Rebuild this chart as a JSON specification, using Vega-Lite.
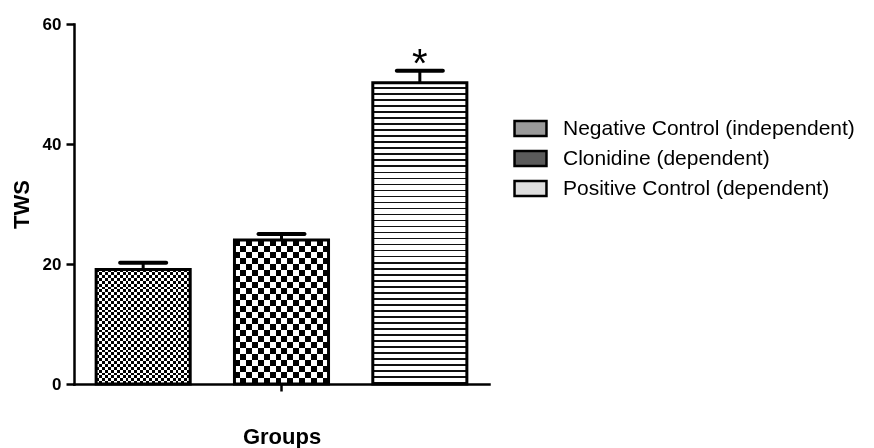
{
  "$schema": "https://vega.github.io/schema/vega-lite/v6.json",
  "width": 415,
  "height": 360,
  "autosize": {"type": "none"},
  "padding": {"left": 74, "top": 24, "right": 385, "bottom": 64},
  "background": "white",
  "config": {
    "view": {"stroke": null},
    "font": "Liberation Sans",
    "axis": {"domainColor": "black", "tickColor": "black", "labelColor": "black", "titleColor": "black", "grid": false, "labelFont": "Liberation Sans", "titleFont": "Liberation Sans"},
    "legend": {"labelFont": "Liberation Sans"}
  },
  "data": {
    "values": [
      {"Group": "Negative Control (independent)", "mean": 19.1, "upper": 20.2, "sig": ""},
      {"Group": "Clonidine (dependent)", "mean": 24.0, "upper": 25.0, "sig": ""},
      {"Group": "Positive Control (dependent)", "mean": 50.2, "upper": 52.2, "sig": "*"}
    ]
  },
  "encoding": {
    "x": {
      "field": "Group",
      "type": "nominal",
      "sort": ["Negative Control (independent)", "Clonidine (dependent)", "Positive Control (dependent)"],
      "scale": {"paddingInner": 0.32, "paddingOuter": 0.16},
      "axis": {"title": "Groups", "labels": false, "values": ["Clonidine (dependent)"], "tickSize": 7, "tickWidth": 2.5, "domainWidth": 2.5, "domainCap": "square", "titleFontSize": 22, "titleFontWeight": "bold", "titlePadding": 34}
    }
  },
  "layer": [
    {
      "mark": {"type": "bar"},
      "encoding": {
        "y": {"field": "mean", "type": "quantitative", "title": "TWS", "scale": {"domain": [0, 60], "nice": false},
          "axis": {"values": [0, 20, 40, 60], "tickSize": 8, "tickWidth": 2.5, "domainWidth": 2.5, "domainCap": "square", "labelFontSize": 17, "labelFontWeight": "bold", "labelPadding": 5, "titleFontSize": 22, "titleFontWeight": "bold", "titlePadding": 9}},
        "fill": {
          "condition": [
            {"test": "datum.Group === 'Negative Control (independent)'", "value": {"gradient": "linear", "x1": 0, "y1": 0, "x2": 0, "y2": 1, "stops": [
                {"offset":0,"color":"#fff"},{"offset":0.025,"color":"#fff"},{"offset":0.025,"color":"#000"},{"offset":0.05,"color":"#000"},
                {"offset":0.05,"color":"#fff"},{"offset":0.075,"color":"#fff"},{"offset":0.075,"color":"#000"},{"offset":0.1,"color":"#000"},
                {"offset":0.1,"color":"#fff"},{"offset":0.125,"color":"#fff"},{"offset":0.125,"color":"#000"},{"offset":0.15,"color":"#000"},
                {"offset":0.15,"color":"#fff"},{"offset":0.175,"color":"#fff"},{"offset":0.175,"color":"#000"},{"offset":0.2,"color":"#000"},
                {"offset":0.2,"color":"#fff"},{"offset":0.225,"color":"#fff"},{"offset":0.225,"color":"#000"},{"offset":0.25,"color":"#000"},
                {"offset":0.25,"color":"#fff"},{"offset":0.275,"color":"#fff"},{"offset":0.275,"color":"#000"},{"offset":0.3,"color":"#000"},
                {"offset":0.3,"color":"#fff"},{"offset":0.325,"color":"#fff"},{"offset":0.325,"color":"#000"},{"offset":0.35,"color":"#000"},
                {"offset":0.35,"color":"#fff"},{"offset":0.375,"color":"#fff"},{"offset":0.375,"color":"#000"},{"offset":0.4,"color":"#000"},
                {"offset":0.4,"color":"#fff"},{"offset":0.425,"color":"#fff"},{"offset":0.425,"color":"#000"},{"offset":0.45,"color":"#000"},
                {"offset":0.45,"color":"#fff"},{"offset":0.475,"color":"#fff"},{"offset":0.475,"color":"#000"},{"offset":0.5,"color":"#000"},
                {"offset":0.5,"color":"#fff"},{"offset":0.525,"color":"#fff"},{"offset":0.525,"color":"#000"},{"offset":0.55,"color":"#000"},
                {"offset":0.55,"color":"#fff"},{"offset":0.575,"color":"#fff"},{"offset":0.575,"color":"#000"},{"offset":0.6,"color":"#000"},
                {"offset":0.6,"color":"#fff"},{"offset":0.625,"color":"#fff"},{"offset":0.625,"color":"#000"},{"offset":0.65,"color":"#000"},
                {"offset":0.65,"color":"#fff"},{"offset":0.675,"color":"#fff"},{"offset":0.675,"color":"#000"},{"offset":0.7,"color":"#000"},
                {"offset":0.7,"color":"#fff"},{"offset":0.725,"color":"#fff"},{"offset":0.725,"color":"#000"},{"offset":0.75,"color":"#000"},
                {"offset":0.75,"color":"#fff"},{"offset":0.775,"color":"#fff"},{"offset":0.775,"color":"#000"},{"offset":0.8,"color":"#000"},
                {"offset":0.8,"color":"#fff"},{"offset":0.825,"color":"#fff"},{"offset":0.825,"color":"#000"},{"offset":0.85,"color":"#000"},
                {"offset":0.85,"color":"#fff"},{"offset":0.875,"color":"#fff"},{"offset":0.875,"color":"#000"},{"offset":0.9,"color":"#000"},
                {"offset":0.9,"color":"#fff"},{"offset":0.925,"color":"#fff"},{"offset":0.925,"color":"#000"},{"offset":0.95,"color":"#000"},
                {"offset":0.95,"color":"#fff"},{"offset":0.975,"color":"#fff"},{"offset":0.975,"color":"#000"},{"offset":1,"color":"#000"}
              ]}},
            {"test": "datum.Group === 'Clonidine (dependent)'", "value": {"gradient": "linear", "x1": 0, "y1": 0, "x2": 0, "y2": 1, "stops": [
                {"offset":0,"color":"#fff"},{"offset":0.04167,"color":"#fff"},{"offset":0.04167,"color":"#000"},{"offset":0.08333,"color":"#000"},
                {"offset":0.08333,"color":"#fff"},{"offset":0.125,"color":"#fff"},{"offset":0.125,"color":"#000"},{"offset":0.16667,"color":"#000"},
                {"offset":0.16667,"color":"#fff"},{"offset":0.20833,"color":"#fff"},{"offset":0.20833,"color":"#000"},{"offset":0.25,"color":"#000"},
                {"offset":0.25,"color":"#fff"},{"offset":0.29167,"color":"#fff"},{"offset":0.29167,"color":"#000"},{"offset":0.33333,"color":"#000"},
                {"offset":0.33333,"color":"#fff"},{"offset":0.375,"color":"#fff"},{"offset":0.375,"color":"#000"},{"offset":0.41667,"color":"#000"},
                {"offset":0.41667,"color":"#fff"},{"offset":0.45833,"color":"#fff"},{"offset":0.45833,"color":"#000"},{"offset":0.5,"color":"#000"},
                {"offset":0.5,"color":"#fff"},{"offset":0.54167,"color":"#fff"},{"offset":0.54167,"color":"#000"},{"offset":0.58333,"color":"#000"},
                {"offset":0.58333,"color":"#fff"},{"offset":0.625,"color":"#fff"},{"offset":0.625,"color":"#000"},{"offset":0.66667,"color":"#000"},
                {"offset":0.66667,"color":"#fff"},{"offset":0.70833,"color":"#fff"},{"offset":0.70833,"color":"#000"},{"offset":0.75,"color":"#000"},
                {"offset":0.75,"color":"#fff"},{"offset":0.79167,"color":"#fff"},{"offset":0.79167,"color":"#000"},{"offset":0.83333,"color":"#000"},
                {"offset":0.83333,"color":"#fff"},{"offset":0.875,"color":"#fff"},{"offset":0.875,"color":"#000"},{"offset":0.91667,"color":"#000"},
                {"offset":0.91667,"color":"#fff"},{"offset":0.95833,"color":"#fff"},{"offset":0.95833,"color":"#000"},{"offset":1,"color":"#000"}
              ]}}
          ],
          "value": {"gradient": "linear", "x1": 0, "y1": 0, "x2": 0, "y2": 1, "stops": [
                {"offset":0,"color":"#fff"},{"offset":0.0145,"color":"#fff"},{"offset":0.0145,"color":"#111"},{"offset":0.02,"color":"#111"},
                {"offset":0.02,"color":"#fff"},{"offset":0.0345,"color":"#fff"},{"offset":0.0345,"color":"#111"},{"offset":0.04,"color":"#111"},
                {"offset":0.04,"color":"#fff"},{"offset":0.0545,"color":"#fff"},{"offset":0.0545,"color":"#111"},{"offset":0.06,"color":"#111"},
                {"offset":0.06,"color":"#fff"},{"offset":0.0745,"color":"#fff"},{"offset":0.0745,"color":"#111"},{"offset":0.08,"color":"#111"},
                {"offset":0.08,"color":"#fff"},{"offset":0.0945,"color":"#fff"},{"offset":0.0945,"color":"#111"},{"offset":0.1,"color":"#111"},
                {"offset":0.1,"color":"#fff"},{"offset":0.1145,"color":"#fff"},{"offset":0.1145,"color":"#111"},{"offset":0.12,"color":"#111"},
                {"offset":0.12,"color":"#fff"},{"offset":0.1345,"color":"#fff"},{"offset":0.1345,"color":"#111"},{"offset":0.14,"color":"#111"},
                {"offset":0.14,"color":"#fff"},{"offset":0.1545,"color":"#fff"},{"offset":0.1545,"color":"#111"},{"offset":0.16,"color":"#111"},
                {"offset":0.16,"color":"#fff"},{"offset":0.1745,"color":"#fff"},{"offset":0.1745,"color":"#111"},{"offset":0.18,"color":"#111"},
                {"offset":0.18,"color":"#fff"},{"offset":0.1945,"color":"#fff"},{"offset":0.1945,"color":"#111"},{"offset":0.2,"color":"#111"},
                {"offset":0.2,"color":"#fff"},{"offset":0.2145,"color":"#fff"},{"offset":0.2145,"color":"#111"},{"offset":0.22,"color":"#111"},
                {"offset":0.22,"color":"#fff"},{"offset":0.2345,"color":"#fff"},{"offset":0.2345,"color":"#111"},{"offset":0.24,"color":"#111"},
                {"offset":0.24,"color":"#fff"},{"offset":0.2545,"color":"#fff"},{"offset":0.2545,"color":"#111"},{"offset":0.26,"color":"#111"},
                {"offset":0.26,"color":"#fff"},{"offset":0.2745,"color":"#fff"},{"offset":0.2745,"color":"#111"},{"offset":0.28,"color":"#111"},
                {"offset":0.28,"color":"#fff"},{"offset":0.2945,"color":"#fff"},{"offset":0.2945,"color":"#111"},{"offset":0.3,"color":"#111"},
                {"offset":0.3,"color":"#fff"},{"offset":0.3145,"color":"#fff"},{"offset":0.3145,"color":"#111"},{"offset":0.32,"color":"#111"},
                {"offset":0.32,"color":"#fff"},{"offset":0.3345,"color":"#fff"},{"offset":0.3345,"color":"#111"},{"offset":0.34,"color":"#111"},
                {"offset":0.34,"color":"#fff"},{"offset":0.3545,"color":"#fff"},{"offset":0.3545,"color":"#111"},{"offset":0.36,"color":"#111"},
                {"offset":0.36,"color":"#fff"},{"offset":0.3745,"color":"#fff"},{"offset":0.3745,"color":"#111"},{"offset":0.38,"color":"#111"},
                {"offset":0.38,"color":"#fff"},{"offset":0.3945,"color":"#fff"},{"offset":0.3945,"color":"#111"},{"offset":0.4,"color":"#111"},
                {"offset":0.4,"color":"#fff"},{"offset":0.4145,"color":"#fff"},{"offset":0.4145,"color":"#111"},{"offset":0.42,"color":"#111"},
                {"offset":0.42,"color":"#fff"},{"offset":0.4345,"color":"#fff"},{"offset":0.4345,"color":"#111"},{"offset":0.44,"color":"#111"},
                {"offset":0.44,"color":"#fff"},{"offset":0.4545,"color":"#fff"},{"offset":0.4545,"color":"#111"},{"offset":0.46,"color":"#111"},
                {"offset":0.46,"color":"#fff"},{"offset":0.4745,"color":"#fff"},{"offset":0.4745,"color":"#111"},{"offset":0.48,"color":"#111"},
                {"offset":0.48,"color":"#fff"},{"offset":0.4945,"color":"#fff"},{"offset":0.4945,"color":"#111"},{"offset":0.5,"color":"#111"},
                {"offset":0.5,"color":"#fff"},{"offset":0.5145,"color":"#fff"},{"offset":0.5145,"color":"#111"},{"offset":0.52,"color":"#111"},
                {"offset":0.52,"color":"#fff"},{"offset":0.5345,"color":"#fff"},{"offset":0.5345,"color":"#111"},{"offset":0.54,"color":"#111"},
                {"offset":0.54,"color":"#fff"},{"offset":0.5545,"color":"#fff"},{"offset":0.5545,"color":"#111"},{"offset":0.56,"color":"#111"},
                {"offset":0.56,"color":"#fff"},{"offset":0.5745,"color":"#fff"},{"offset":0.5745,"color":"#111"},{"offset":0.58,"color":"#111"},
                {"offset":0.58,"color":"#fff"},{"offset":0.5945,"color":"#fff"},{"offset":0.5945,"color":"#111"},{"offset":0.6,"color":"#111"},
                {"offset":0.6,"color":"#fff"},{"offset":0.6145,"color":"#fff"},{"offset":0.6145,"color":"#111"},{"offset":0.62,"color":"#111"},
                {"offset":0.62,"color":"#fff"},{"offset":0.6345,"color":"#fff"},{"offset":0.6345,"color":"#111"},{"offset":0.64,"color":"#111"},
                {"offset":0.64,"color":"#fff"},{"offset":0.6545,"color":"#fff"},{"offset":0.6545,"color":"#111"},{"offset":0.66,"color":"#111"},
                {"offset":0.66,"color":"#fff"},{"offset":0.6745,"color":"#fff"},{"offset":0.6745,"color":"#111"},{"offset":0.68,"color":"#111"},
                {"offset":0.68,"color":"#fff"},{"offset":0.6945,"color":"#fff"},{"offset":0.6945,"color":"#111"},{"offset":0.7,"color":"#111"},
                {"offset":0.7,"color":"#fff"},{"offset":0.7145,"color":"#fff"},{"offset":0.7145,"color":"#111"},{"offset":0.72,"color":"#111"},
                {"offset":0.72,"color":"#fff"},{"offset":0.7345,"color":"#fff"},{"offset":0.7345,"color":"#111"},{"offset":0.74,"color":"#111"},
                {"offset":0.74,"color":"#fff"},{"offset":0.7545,"color":"#fff"},{"offset":0.7545,"color":"#111"},{"offset":0.76,"color":"#111"},
                {"offset":0.76,"color":"#fff"},{"offset":0.7745,"color":"#fff"},{"offset":0.7745,"color":"#111"},{"offset":0.78,"color":"#111"},
                {"offset":0.78,"color":"#fff"},{"offset":0.7945,"color":"#fff"},{"offset":0.7945,"color":"#111"},{"offset":0.8,"color":"#111"},
                {"offset":0.8,"color":"#fff"},{"offset":0.8145,"color":"#fff"},{"offset":0.8145,"color":"#111"},{"offset":0.82,"color":"#111"},
                {"offset":0.82,"color":"#fff"},{"offset":0.8345,"color":"#fff"},{"offset":0.8345,"color":"#111"},{"offset":0.84,"color":"#111"},
                {"offset":0.84,"color":"#fff"},{"offset":0.8545,"color":"#fff"},{"offset":0.8545,"color":"#111"},{"offset":0.86,"color":"#111"},
                {"offset":0.86,"color":"#fff"},{"offset":0.8745,"color":"#fff"},{"offset":0.8745,"color":"#111"},{"offset":0.88,"color":"#111"},
                {"offset":0.88,"color":"#fff"},{"offset":0.8945,"color":"#fff"},{"offset":0.8945,"color":"#111"},{"offset":0.9,"color":"#111"},
                {"offset":0.9,"color":"#fff"},{"offset":0.9145,"color":"#fff"},{"offset":0.9145,"color":"#111"},{"offset":0.92,"color":"#111"},
                {"offset":0.92,"color":"#fff"},{"offset":0.9345,"color":"#fff"},{"offset":0.9345,"color":"#111"},{"offset":0.94,"color":"#111"},
                {"offset":0.94,"color":"#fff"},{"offset":0.9545,"color":"#fff"},{"offset":0.9545,"color":"#111"},{"offset":0.96,"color":"#111"},
                {"offset":0.96,"color":"#fff"},{"offset":0.9745,"color":"#fff"},{"offset":0.9745,"color":"#111"},{"offset":0.98,"color":"#111"},
                {"offset":0.98,"color":"#fff"},{"offset":0.9945,"color":"#fff"},{"offset":0.9945,"color":"#111"},{"offset":1,"color":"#111"}
              ]}
        }
      }
    },
    {
      "transform": [{"filter": "datum.Group !== 'Positive Control (dependent)'"}],
      "mark": {"type": "bar", "blend": "difference"},
      "encoding": {
        "y": {"field": "mean", "type": "quantitative", "title": "TWS"},
        "fill": {
          "condition": {"test": "datum.Group === 'Negative Control (independent)'", "value": {"gradient": "linear", "x1": 0, "y1": 0, "x2": 1, "y2": 0, "stops": [
            {"offset":0,"color":"#fff"},{"offset":0.03125,"color":"#fff"},{"offset":0.03125,"color":"#000"},{"offset":0.0625,"color":"#000"},
            {"offset":0.0625,"color":"#fff"},{"offset":0.09375,"color":"#fff"},{"offset":0.09375,"color":"#000"},{"offset":0.125,"color":"#000"},
            {"offset":0.125,"color":"#fff"},{"offset":0.15625,"color":"#fff"},{"offset":0.15625,"color":"#000"},{"offset":0.1875,"color":"#000"},
            {"offset":0.1875,"color":"#fff"},{"offset":0.21875,"color":"#fff"},{"offset":0.21875,"color":"#000"},{"offset":0.25,"color":"#000"},
            {"offset":0.25,"color":"#fff"},{"offset":0.28125,"color":"#fff"},{"offset":0.28125,"color":"#000"},{"offset":0.3125,"color":"#000"},
            {"offset":0.3125,"color":"#fff"},{"offset":0.34375,"color":"#fff"},{"offset":0.34375,"color":"#000"},{"offset":0.375,"color":"#000"},
            {"offset":0.375,"color":"#fff"},{"offset":0.40625,"color":"#fff"},{"offset":0.40625,"color":"#000"},{"offset":0.4375,"color":"#000"},
            {"offset":0.4375,"color":"#fff"},{"offset":0.46875,"color":"#fff"},{"offset":0.46875,"color":"#000"},{"offset":0.5,"color":"#000"},
            {"offset":0.5,"color":"#fff"},{"offset":0.53125,"color":"#fff"},{"offset":0.53125,"color":"#000"},{"offset":0.5625,"color":"#000"},
            {"offset":0.5625,"color":"#fff"},{"offset":0.59375,"color":"#fff"},{"offset":0.59375,"color":"#000"},{"offset":0.625,"color":"#000"},
            {"offset":0.625,"color":"#fff"},{"offset":0.65625,"color":"#fff"},{"offset":0.65625,"color":"#000"},{"offset":0.6875,"color":"#000"},
            {"offset":0.6875,"color":"#fff"},{"offset":0.71875,"color":"#fff"},{"offset":0.71875,"color":"#000"},{"offset":0.75,"color":"#000"},
            {"offset":0.75,"color":"#fff"},{"offset":0.78125,"color":"#fff"},{"offset":0.78125,"color":"#000"},{"offset":0.8125,"color":"#000"},
            {"offset":0.8125,"color":"#fff"},{"offset":0.84375,"color":"#fff"},{"offset":0.84375,"color":"#000"},{"offset":0.875,"color":"#000"},
            {"offset":0.875,"color":"#fff"},{"offset":0.90625,"color":"#fff"},{"offset":0.90625,"color":"#000"},{"offset":0.9375,"color":"#000"},
            {"offset":0.9375,"color":"#fff"},{"offset":0.96875,"color":"#fff"},{"offset":0.96875,"color":"#000"},{"offset":1,"color":"#000"}
          ]}},
          "value": {"gradient": "linear", "x1": 0, "y1": 0, "x2": 1, "y2": 0, "stops": [
            {"offset":0,"color":"#fff"},{"offset":0.0625,"color":"#fff"},{"offset":0.0625,"color":"#000"},{"offset":0.125,"color":"#000"},
            {"offset":0.125,"color":"#fff"},{"offset":0.1875,"color":"#fff"},{"offset":0.1875,"color":"#000"},{"offset":0.25,"color":"#000"},
            {"offset":0.25,"color":"#fff"},{"offset":0.3125,"color":"#fff"},{"offset":0.3125,"color":"#000"},{"offset":0.375,"color":"#000"},
            {"offset":0.375,"color":"#fff"},{"offset":0.4375,"color":"#fff"},{"offset":0.4375,"color":"#000"},{"offset":0.5,"color":"#000"},
            {"offset":0.5,"color":"#fff"},{"offset":0.5625,"color":"#fff"},{"offset":0.5625,"color":"#000"},{"offset":0.625,"color":"#000"},
            {"offset":0.625,"color":"#fff"},{"offset":0.6875,"color":"#fff"},{"offset":0.6875,"color":"#000"},{"offset":0.75,"color":"#000"},
            {"offset":0.75,"color":"#fff"},{"offset":0.8125,"color":"#fff"},{"offset":0.8125,"color":"#000"},{"offset":0.875,"color":"#000"},
            {"offset":0.875,"color":"#fff"},{"offset":0.9375,"color":"#fff"},{"offset":0.9375,"color":"#000"},{"offset":1,"color":"#000"}
          ]}
        }
      }
    },
    {
      "mark": {"type": "bar", "fill": "transparent", "stroke": "black", "strokeWidth": 3},
      "encoding": {
        "y": {"field": "mean", "type": "quantitative", "title": "TWS"}
      }
    },
    {
      "mark": {"type": "point", "filled": true, "size": 0, "opacity": 1},
      "encoding": {
        "y": {"field": "mean", "type": "quantitative", "title": "TWS"},
        "fill": {
          "field": "Group",
          "type": "nominal",
          "scale": {
            "domain": ["Negative Control (independent)", "Clonidine (dependent)", "Positive Control (dependent)"],
            "range": ["#9a9a9a", "#5a5a5a", "#dedede"]
          },
          "legend": {
            "orient": "none",
            "legendX": 446,
            "legendY": 94,
            "title": null,
            "symbolType": "M-2.13,-1H2.13V1H-2.13Z",
            "symbolSize": 225,
            "symbolStrokeColor": "black",
            "symbolStrokeWidth": 2.5,
            "symbolOpacity": 1,
            "labelFontSize": 21,
            "labelColor": "black",
            "labelOffset": 22,
            "labelLimit": 400,
            "rowPadding": 5,
            "padding": 0
          }
        }
      }
    },
    {
      "mark": {"type": "rule", "color": "black", "strokeWidth": 3},
      "encoding": {
        "y": {"field": "mean", "type": "quantitative", "title": "TWS"},
        "y2": {"field": "upper"}
      }
    },
    {
      "mark": {"type": "tick", "color": "black", "opacity": 1, "thickness": 4, "size": 50, "cornerRadius": 2},
      "encoding": {
        "y": {"field": "upper", "type": "quantitative", "title": "TWS"}
      }
    },
    {
      "mark": {"type": "text", "fontSize": 40, "baseline": "alphabetic", "dy": 6, "color": "black", "font": "Liberation Sans"},
      "encoding": {
        "y": {"field": "upper", "type": "quantitative", "title": "TWS"},
        "text": {"field": "sig"}
      }
    }
  ]
}
